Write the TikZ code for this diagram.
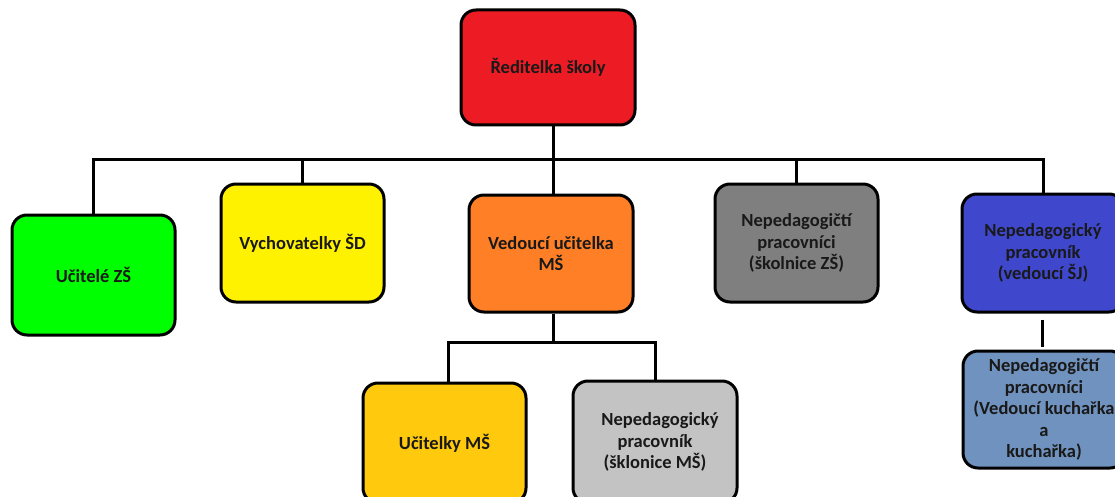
\documentclass[tikz,border=0pt]{standalone}
\usepackage{fontspec}
\setmainfont{Carlito}
\definecolor{cRed}{HTML}{ED1C24}
\definecolor{cGreen}{HTML}{00FF00}
\definecolor{cYellow}{HTML}{FFF200}
\definecolor{cOrange}{HTML}{FF7F27}
\definecolor{cGray}{HTML}{7F7F7F}
\definecolor{cBlue}{HTML}{3F48CC}
\definecolor{cGold}{HTML}{FFC90E}
\definecolor{cLGray}{HTML}{C3C3C3}
\definecolor{cLBlue}{HTML}{7092BE}
\tikzset{
  box/.style={draw=black, line width=3pt, rounded corners=15pt, align=center,
    inner sep=0pt, font=\bfseries\fontsize{18.5}{21.5}\selectfont, text=black!90},
  conn/.style={draw=black, line width=3pt}
}
\begin{document}
\begin{tikzpicture}[x=1pt,y=-1pt]
\useasboundingbox (0,0) rectangle (1115,497);
\clip (0,0) rectangle (1115,497);
\fill[white] (0,0) rectangle (1115,497);
% nodes
\node[box, fill=cRed, minimum width=174pt, minimum height=115pt] (top) at (548,67.5) {Ředitelka školy};
\node[box, fill=cGreen, minimum width=163pt, minimum height=120pt] (uz) at (93.5,275) {Učitelé ZŠ};
\node[box, fill=cYellow, minimum width=163pt, minimum height=118pt] (vy) at (302.5,243) {Vychovatelky ŠD};
\node[box, fill=cOrange, minimum width=164pt, minimum height=117pt] (ve) at (551,253.5) {Vedoucí učitelka\\MŠ};
\node[box, fill=cGray, minimum width=163pt, minimum height=118pt] (sk) at (796.5,243) {Nepedagogičtí\\pracovníci\\(školnice ZŠ)};
\node[box, fill=cBlue, minimum width=162pt, minimum height=118pt] (vs) at (1043,253) {Nepedagogický\\pracovník\\(vedoucí ŠJ)};
\node[box, fill=cGold, minimum width=163pt, minimum height=120pt] (um) at (444.5,443) {Učitelky MŠ};
\node[box, fill=cLGray, minimum width=164pt, minimum height=122pt] (nm) at (655,442) {\hspace*{10pt}Nepedagogický\\pracovník\\(šklonice MŠ)};
\node[box, fill=cLBlue, minimum width=162pt, minimum height=117pt] (ku) at (1044,409.5) {Nepedagogičtí\\pracovníci\\(Vedoucí kuchařka\\a\\kuchařka)};
% bus coordinates
\coordinate (bus) at (553,160);
\coordinate (bus2) at (553,342);
% connectors
\draw[conn] ([xshift=5pt]top.south) -- (bus);
\draw[conn] (uz.north) -- (uz.north |- bus) -- (vs.north |- bus) -- (vs.north);
\draw[conn] (vy.north |- bus) -- (vy.north);
\draw[conn] (bus) -- (bus |- ve.north);
\draw[conn] (sk.north |- bus) -- (sk.north);
\draw[conn] (bus |- ve.south) -- (bus2);
\draw[conn] ([xshift=4pt]um.north) -- ([xshift=4pt]um.north |- bus2) -- (nm.north |- bus2) -- (nm.north);
\draw[conn] ([xshift=-1pt,yshift=-6pt]vs.south) -- ([xshift=-2pt,yshift=3pt]ku.north);
\end{tikzpicture}
\end{document}
